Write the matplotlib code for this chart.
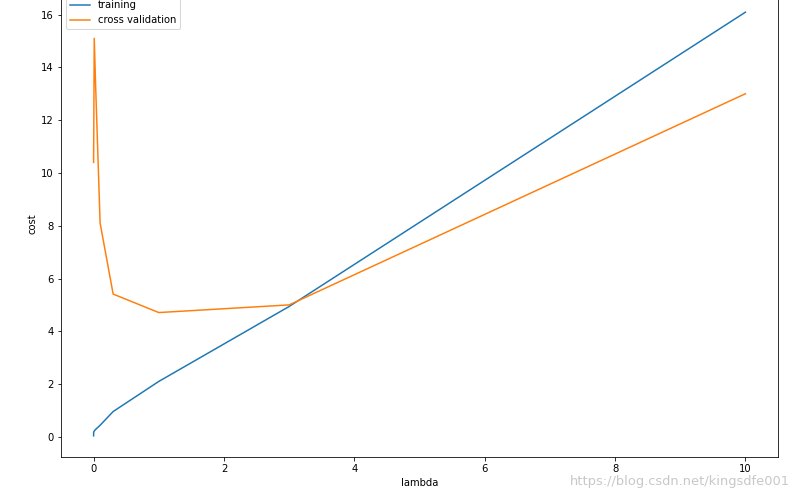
import matplotlib
matplotlib.use('Agg')
import matplotlib.pyplot as plt

# lambda candidates and the resulting costs
lambdas = [0, 0.001, 0.003, 0.01, 0.03, 0.1, 0.3, 1, 3, 10]
training_cost = [0.04, 0.17, 0.19, 0.22, 0.28, 0.44, 0.96, 2.10, 4.94, 16.09]
cv_cost = [10.4, 10.9, 11.6, 15.1, 13.4, 8.1, 5.41, 4.71, 5.0, 13.0]

fig = plt.figure(figsize=(794 / 72, 494 / 72), dpi=72)
ax = fig.add_axes([61 / 794, 37 / 494, 717 / 794, 466 / 494])

ax.plot(lambdas, training_cost, label='training')
ax.plot(lambdas, cv_cost, label='cross validation')

ax.set_xlabel('lambda')
ax.set_ylabel('cost')
ax.legend(loc='upper left')

# watermark from the source image
fig.text(0.995, 0.012, 'https://blog.csdn.net/kingsdfe001', ha='right',
         va='bottom', fontsize=13, color='#c8c8c8')

plt.savefig('out.png', dpi=72)
